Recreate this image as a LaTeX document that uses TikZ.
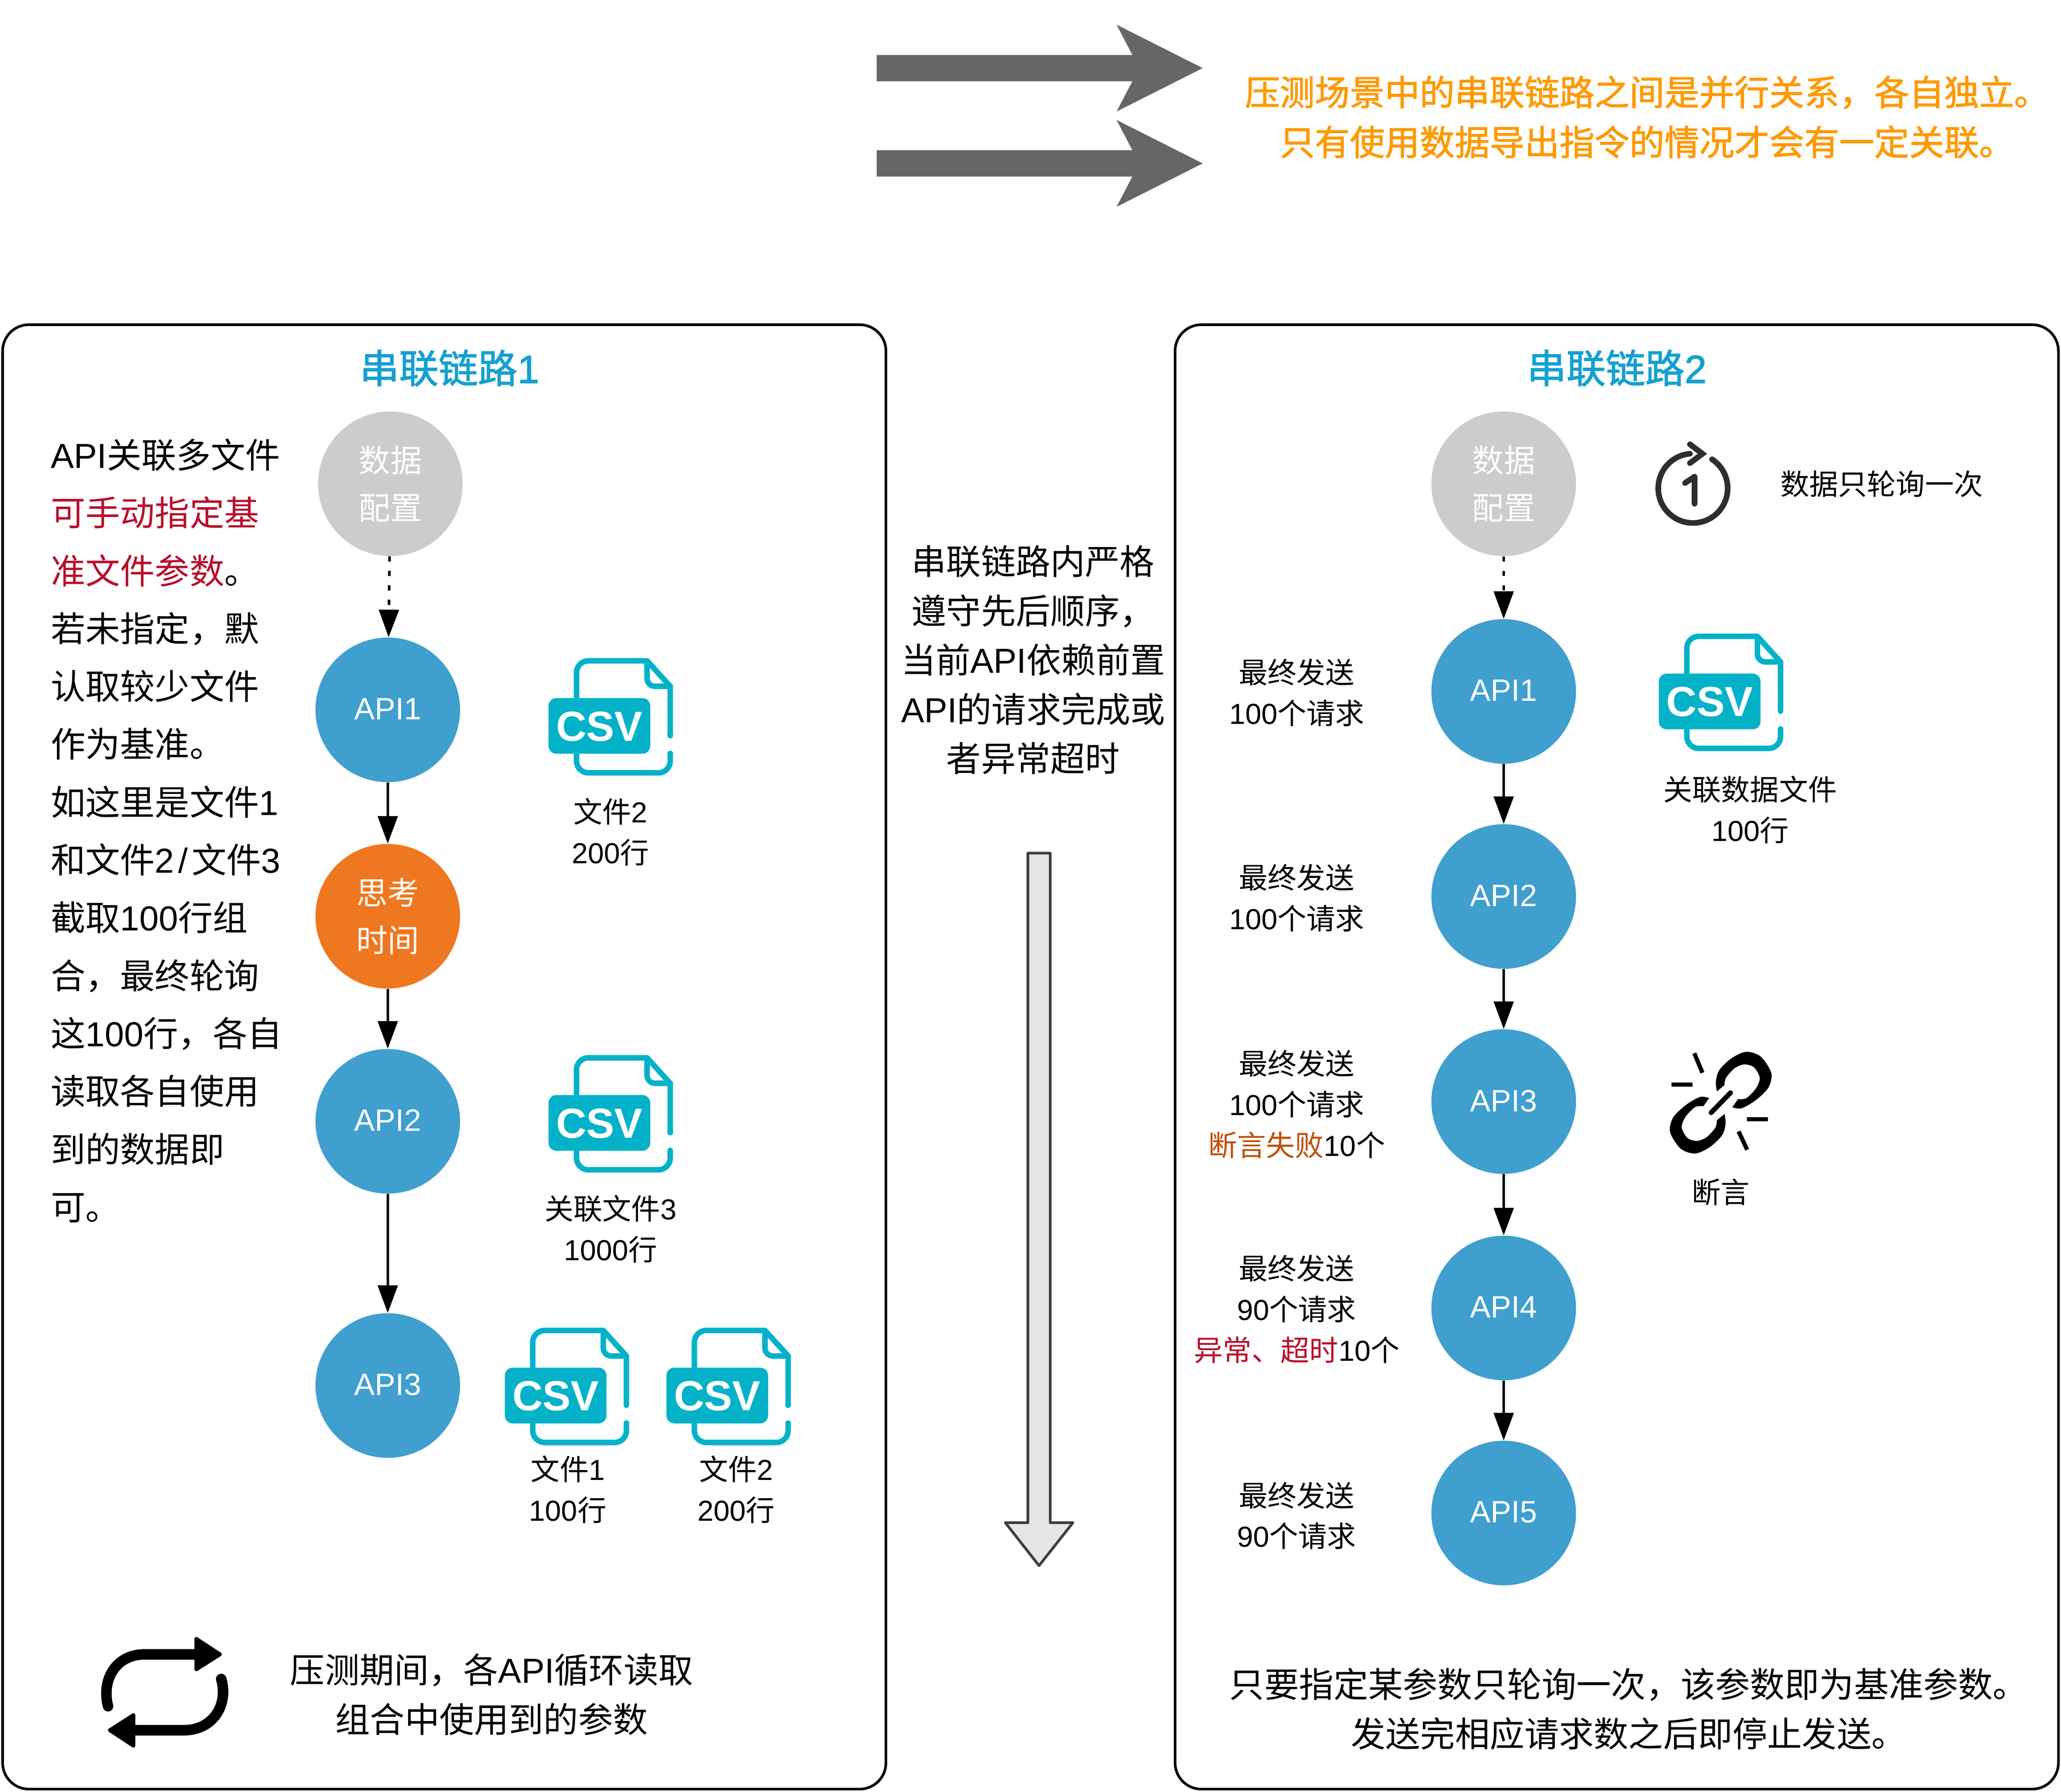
\documentclass[tikz,border=0pt]{standalone}
\usepackage{fontspec}
\usepackage{xcolor}
\usetikzlibrary{arrows.meta}
\setmainfont{Noto Sans CJK SC}
\newfontfamily\latinfont{Liberation Sans}
\newfontfamily\medfont[FakeBold=1.6]{Noto Sans CJK SC}
\newfontfamily\latinmedfont[FakeBold=1.6]{Liberation Sans}
\newcommand{\ltn}[1]{{\latinfont #1}}
\newcommand{\apilabel}[1]{\raisebox{1.5pt}{\latinfont\fontsize{23.5}{30}\selectfont #1}}

\definecolor{apiblue}{HTML}{3F9FCE}
\definecolor{thinkorange}{HTML}{EF7720}
\definecolor{cfggrey}{HTML}{CCCCCC}
\definecolor{titleblue}{HTML}{14A0D0}
\definecolor{noteorange}{HTML}{FF9900}
\definecolor{notered}{HTML}{B80F2A}
\definecolor{failred}{HTML}{C04F0A}
\definecolor{csvteal}{HTML}{03B2C9}
\definecolor{arrowgrey}{HTML}{666666}

\tikzset{
    panel/.style={draw=black, line width=2pt, rounded corners=20pt},
    stepnode/.style={circle, minimum size=110pt, inner sep=0pt, text=white, align=center,
        font=\fontsize{24}{36}\selectfont},
    apinode/.style={stepnode, fill=apiblue},
    cfgnode/.style={stepnode, fill=cfggrey},
    thinknode/.style={stepnode, fill=thinkorange},
    flowline/.style={draw=black, line width=2pt, -{Triangle[length=21pt, width=15pt]}},
    cfgline/.style={flowline, dash pattern=on 4pt off 7pt},
    titletext/.style={inner sep=0pt, text=titleblue, font=\fontsize{30}{36}\selectfont\medfont},
    bigtext/.style={inner sep=0pt, align=center, font=\fontsize{26.4}{37.5}\selectfont},
    smalltext/.style={inner sep=0pt, align=center, font=\fontsize{22}{31}\selectfont},
    csvline/.style={draw=csvteal, line width=4.2pt, line cap=round},
    csvlabel/.style={inner sep=0pt, text=white, font=\fontsize{32}{32}\selectfont\latinfont\bfseries},
    csvicon/.pic={
        \draw[csvline, rounded corners=9pt] (92.6,72.5) -- (92.6,87.3) -- (21.3,87.3) -- (21.3,2.1) -- (75,2.1);
        \draw[csvline, line cap=butt, line join=miter] (75,2.1) -- (92.6,21.5) -- (92.6,58);
        \draw[csvline, line cap=round] (92.6,58) -- (92.6,59);
        \draw[csvline, line cap=butt, rounded corners=6pt] (75,2.1) -- (75,21.5) -- (92.6,21.5);
        \fill[csvteal, rounded corners=6pt] (0,30.4) rectangle (77.4,72.8);
        \node[csvlabel] (-txt) at (38.7,52) {CSV};
    },
    linkhalf/.pic={
        \fill plot[smooth] coordinates {(-2.9,-8.6) (-3.7,-15.9) (-1.1,-24.7) (8.4,-33.9) (19.5,-38.7)
                (30.5,-35) (38.5,-22.5) (36.3,-11.5) (26.8,-2) (15.8,4.3) (8.8,3.5)}
            -- plot[smooth] coordinates {(13.2,-2.7) (19.5,-3.4) (26.8,-10.8) (29.7,-18.9) (25.3,-26.9)
                (18,-29.1) (10.6,-26.2) (4,-18.9) (2.9,-13.4)} -- cycle;
    }
}

\begin{document}
\begin{tikzpicture}[x=1pt, y=-1pt]
    \useasboundingbox (0,0) rectangle (1568,1363.2);

    \foreach \y in {51.8,124.3}
        \fill[arrowgrey] (667,\y) ++(0,-10) -- ++(194.5,0) -- ++(-12,-23) -- ++(65.5,33) -- ++(-65.5,33) -- ++(12,-23) -- ++(-194.5,0) -- cycle;
    \node[bigtext, text=noteorange, font=\fontsize{26.6}{38}\selectfont\medfont] (note) at (1253,89) {压测场景中的串联链路之间是并行关系，各自独立。\\只有使用数据导出指令的情况才会有一定关联。};

    \draw[panel] (2,247) rectangle (674,1361);
    \draw[panel] (894,247) rectangle (1566,1361);
    \node[titletext] (title1) at (342,280) {串联链路{\latinmedfont 1}};
    \node[titletext] (title2) at (1230,280) {串联链路{\latinmedfont 2}};

    \node[inner sep=0pt, anchor=north west, align=left, font=\fontsize{26.4}{44}\selectfont] (leftnote) at (38.5,333.5) {\ltn{API}关联多文件\\
        \textcolor{notered}{可手动指定基}\\
        \textcolor{notered}{准文件参数}。\\
        若未指定，默\\
        认取较少文件\\
        作为基准。\\
        如这里是文件\ltn{1}\\
        和文件\ltn{2\hspace{3pt}/\hspace{3pt}}文件\ltn{3}\\
        截取\ltn{100}行组\\
        合，最终轮询\\
        这\ltn{100}行，各自\\
        读取各自使用\\
        到的数据即\\
        可。};

    \node[cfgnode] (cfga) at (297,368) {数据\\配置};
    \node[apinode] (a1) at (295,540) {\apilabel{API1}};
    \node[thinknode] (think) at (295,697) {思考\\时间};
    \node[apinode] (a2) at (295,853) {\apilabel{API2}};
    \node[apinode] (a3) at (295,1054) {\apilabel{API3}};
    \draw[cfgline] (cfga) -- (a1);
    \foreach \p/\q in {a1/think, think/a2, a2/a3}
        \draw[flowline] (\p) -- (\q);

    \pic (csva) at (417.3,500.6) {csvicon};
    \pic (csvb) at (417.3,802.6) {csvicon};
    \pic (csvc) at (384,1010) {csvicon};
    \pic (csvd) at (507,1010) {csvicon};
    \node[smalltext] (fa) at (464.5,633) {文件\ltn{2}\\\ltn{200}行};
    \node[smalltext] (fb) at (464.5,935) {关联文件\ltn{3}\\\ltn{1000}行};
    \node[smalltext] (fc) at (432,1133) {文件\ltn{1}\\\ltn{100}行};
    \node[smalltext] (fd) at (560,1133) {文件\ltn{2}\\\ltn{200}行};

    \draw[line width=8pt, line cap=round] (82.2,1298) .. controls (77,1278) and (88,1258.5) .. (110,1258.5) -- (150,1258.5);
    \fill[line width=3pt, draw=black, line join=round] (149.4,1246.8) -- (167.2,1258.5) -- (149.4,1269.8) -- cycle;
    \draw[line width=8pt, line cap=round] (168.3,1277.2) .. controls (174,1297) and (162,1316.2) .. (140,1316.2) -- (101,1316.2);
    \fill[line width=3pt, draw=black, line join=round] (101.5,1304.8) -- (83.7,1316.2) -- (101.5,1327.9) -- cycle;
    \node[bigtext] (loopnote) at (374,1289) {压测期间，各\ltn{API}循环读取\\组合中使用到的参数};

    \node[bigtext] (midnote) at (786,502) {串联链路内严格\\遵守先后顺序，\\当前\ltn{API}依赖前置\\\ltn{API}的请求完成或\\者异常超时};
    \draw[fill=black!10, draw=black!76, line width=2pt, line join=round] (782,649) -- (799,649) -- (799,1158.3) -- (816.3,1158.3) -- (790.5,1191) -- (764.8,1158.3) -- (782,1158.3) -- cycle;

    \node[cfgnode] (cfgb) at (1144,368) {数据\\配置};
    \foreach \nm/\y/\lb in {b1/526/API1, b2/682/API2, b3/838/API3, b4/995/API4, b5/1151/API5}
        \node[apinode] (\nm) at (1144,\y) {\apilabel{\lb}};
    \draw[cfgline] (cfgb) -- (b1);
    \foreach \p/\q in {b1/b2, b2/b3, b3/b4, b4/b5}
        \draw[flowline] (\p) -- (\q);

    \node[smalltext] (sb1) at (986.5,527) {最终发送\\\ltn{100}个请求};
    \node[smalltext] (sb2) at (986.5,683) {最终发送\\\ltn{100}个请求};
    \node[smalltext] (sb3) at (986.5,840) {最终发送\\\ltn{100}个请求\\\textcolor{failred}{断言失败}\ltn{10}个};
    \node[smalltext] (sb4) at (986.5,996) {最终发送\\\ltn{90}个请求\\\textcolor{notered}{异常、超时}\ltn{10}个};
    \node[smalltext] (sb5) at (986.5,1153) {最终发送\\\ltn{90}个请求};

    \draw[draw=black!82, line width=4.3pt, line cap=round] (1302.5,349.4) arc[start angle=56.6, end angle=-265, radius=26.4pt];
    \draw[draw=black!82, line width=4.3pt, line cap=round, line join=miter] (1285.7,338) -- (1295.2,345.2) -- (1285.7,352.3);
    \draw[draw=black!82, line width=4.3pt, line cap=round, line join=round] (1282,367.4) -- (1289.2,362.6) -- (1289.2,383.2);
    \node[smalltext] (oncenote) at (1431.5,368) {数据只轮询一次};

    \pic (csve) at (1262,482) {csvicon};
    \node[smalltext] (fe) at (1331.5,616) {关联数据文件\\\ltn{100}行};

    \pic at (1309.1,838.8) {linkhalf};
    \pic[rotate=180] at (1309.1,838.8) {linkhalf};
    \draw[line width=3.7pt, line cap=round] (1301.8,846.4) -- (1316.5,831.3);
    \draw[line width=3.2pt] (1271.5,825) -- (1287.5,825);
    \draw[line width=3.2pt] (1289,801.2) -- (1295.2,816.1);
    \draw[line width=3.2pt] (1329,851.5) -- (1345,851.5);
    \draw[line width=3.2pt] (1322.7,860.7) -- (1329.2,874.6);
    \node[smalltext] (linknote) at (1309,907) {断言};

    \node[bigtext] (stopnote) at (1239,1300) {只要指定某参数只轮询一次，该参数即为基准参数。\\发送完相应请求数之后即停止发送。};
\end{tikzpicture}
\end{document}
